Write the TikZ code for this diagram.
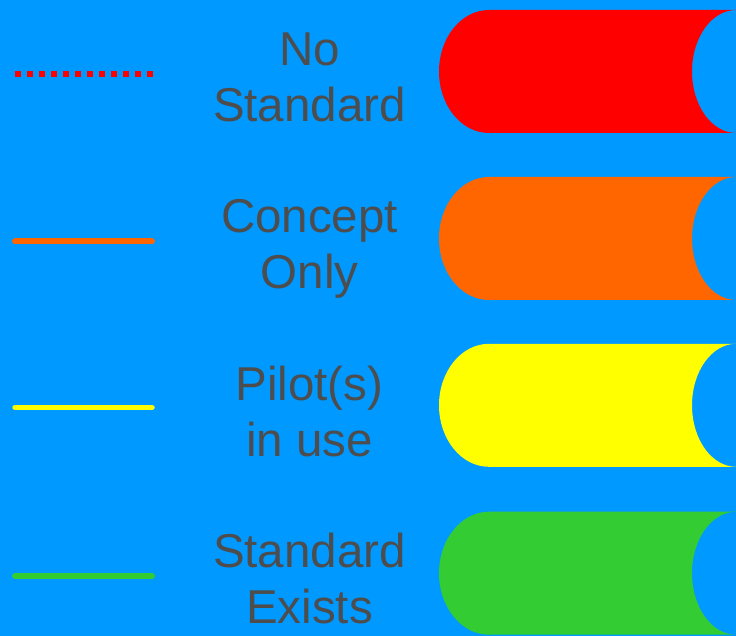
\documentclass[tikz,border=0pt]{standalone}
\usepackage{fontspec}
\setmainfont{Liberation Sans}
\usetikzlibrary{positioning}

\definecolor{bgblue}{HTML}{0099FF}
\definecolor{textgrey}{HTML}{4D4D4D}
\definecolor{nostd}{HTML}{FF0000}
\definecolor{concept}{HTML}{FF6600}
\definecolor{pilot}{HTML}{FFFF00}
\definecolor{exists}{HTML}{33CC33}

% status bar: rounded left end, concave right end; #1 colour, #2 centre y
\newcommand{\statusbar}[2]{%
  \fill[#1] (736,#2-61.5) -- (489,#2-61.5)
    arc[start angle=270, end angle=90, x radius=50, y radius=61.5]
    -- (736,#2+61.5)
    arc[start angle=90, end angle=270, x radius=44, y radius=61.5] -- cycle;}

\begin{document}
\begin{tikzpicture}[
    x=1pt, y=-1pt,
    legendtext/.style={font=\fontsize{47.5}{56}\selectfont, text=textgrey, align=center, inner sep=0pt, anchor=base},
    sample/.style={line width=6pt, line cap=round},
    dotsample/.style={line width=6pt, dash pattern=on 6pt off 6pt}
  ]
    \fill[bgblue] (0,0) rectangle (736,636);
    \useasboundingbox (0,0) rectangle (736,636);

    % No Standard
    \coordinate (nostdL) at (15,74);
    \coordinate (nostdR) at (153,74);
    \draw[dotsample, nostd] (nostdL) -- (nostdR);
    \node[legendtext] (nostdtext) at (309.5,122) {No\\Standard};
    \statusbar{nostd}{71.5}

    % Concept Only
    \coordinate (conceptL) at (15,241.5);
    \coordinate (conceptR) at (152,241.5);
    \draw[sample, concept] (conceptL) -- (conceptR);
    \node[legendtext] (concepttext) at (309.5,289) {Concept\\Only};
    \statusbar{concept}{238.5}

    % Pilot(s) in use
    \coordinate (pilotL) at (15,407.5);
    \coordinate (pilotR) at (152,407.5);
    \draw[sample, pilot, line width=5.5pt] (pilotL) -- (pilotR);
    \node[legendtext] (pilottext) at (309.5,456) {Pilot(s)\\in use};
    \statusbar{pilot}{405.3}

    % Standard Exists
    \coordinate (existsL) at (15,576);
    \coordinate (existsR) at (152,576);
    \draw[sample, exists] (existsL) -- (existsR);
    \node[legendtext] (existstext) at (309.5,623) {Standard\\Exists};
    \statusbar{exists}{573.2}
\end{tikzpicture}
\end{document}
